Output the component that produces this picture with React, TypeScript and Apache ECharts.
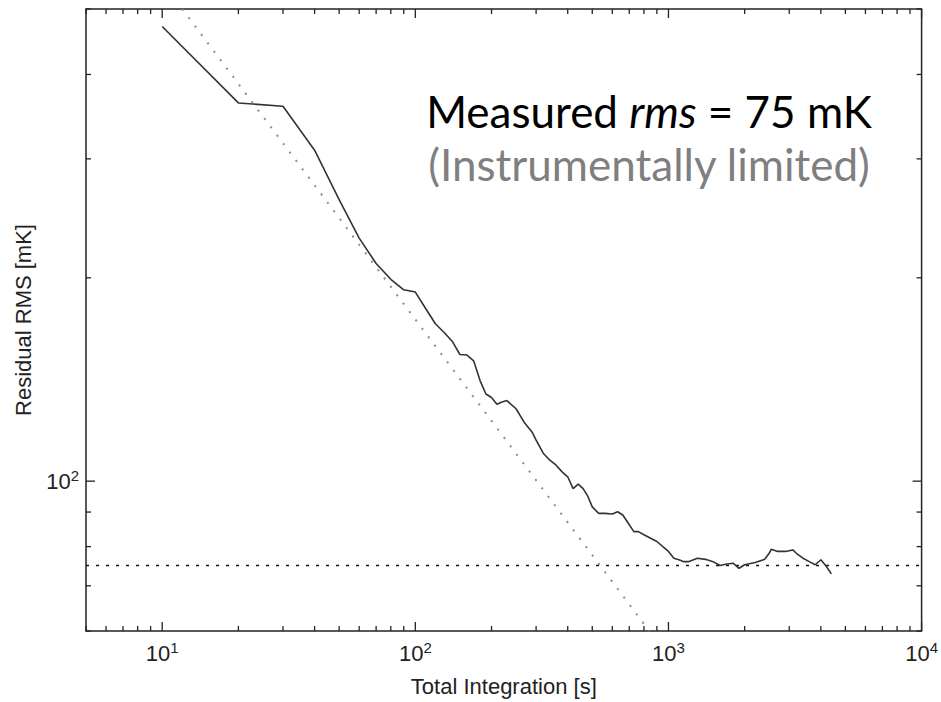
import React, { useEffect, useRef } from "react";
import * as echarts from "echarts";

// Measured residual RMS versus total integration time
const timeSec = [
  10, 20, 30, 40, 50, 60, 70, 80, 90, 100, 110, 120, 130, 140, 150, 160, 170, 180, 190, 200,
  210, 220, 230, 250, 270, 290, 300, 320, 340, 360, 380, 400, 420, 440, 460, 480, 500, 530,
  560, 600, 630, 660, 700, 730, 760, 800, 850, 900, 950, 1000, 1050, 1100, 1150, 1200, 1300,
  1400, 1500, 1600, 1700, 1800, 1900, 2000, 2200, 2400, 2500, 2550, 2700, 2900, 3100, 3200,
  3400, 3600, 3800, 4000, 4200, 4400,
];
const residualRmsMk = [
  471, 363, 359, 309, 261, 229, 210, 199, 192, 190.5, 180, 171, 166, 161, 154, 153.7, 150.7,
  141, 134.6, 133, 130, 131, 131.6, 128, 122, 118, 115, 110, 107.4, 105.6, 103.2, 101.5, 97.5,
  99, 97.5, 95, 91.6, 89.6, 89.6, 89.4, 90.1, 89.1, 86.2, 84.2, 84.2, 83.3, 82.3, 81.4, 80,
  78.7, 76.9, 76.5, 76, 76, 76.9, 76.6, 76, 75, 75.4, 75.6, 74.3, 75.2, 75.8, 76.6, 78.2, 79.3,
  78.7, 78.7, 79.1, 78.2, 76.9, 76, 75.2, 76.5, 74.8, 72.9,
];

// Ideal radiometer-equation line (end points)
const idealTimeSec = [12, 840];
const idealRmsMk = [500, 60];

// Instrumental floor
const floorMk = 75;
const floorTimeSec = [5, 10000];

// Axis ranges and tick marks
const xRange = [5, 10000];
const yRange = [60, 500];
const xDecades = [1, 10, 100, 1000, 10000];
const tickMultipliers = [1, 2, 3, 4, 5, 6, 7, 8, 9];
const yTickValues = [60, 70, 80, 90, 100, 200, 300, 400, 500];
const yMajorTicks = [100];

const annotationLine1 = "Measured ";
const annotationItalic = "rms";
const annotationLine1End = " = 75 mK";
const annotationLine2 = "(Instrumentally limited)";

const AXIS_FONT = "'Liberation Sans', Arial, Helvetica, sans-serif";
const NOTE_FONT = "Lato, 'Open Sans', sans-serif";
const NOTE_SIZE = 44;
const INK = "#222";

function decadeLabel(v: number): string {
  const l = Math.log10(v);
  const e = Math.round(l);
  if (Math.abs(l - e) > 1e-6) return "";
  return `{b|10}{s|${e}}`;
}

const labelRich = {
  b: { fontFamily: AXIS_FONT, fontSize: 22, color: INK, lineHeight: 26 },
  s: { fontFamily: AXIS_FONT, fontSize: 15, color: INK, verticalAlign: "top", lineHeight: 26 },
};

export default function App() {
  const ref = useRef<HTMLDivElement>(null);

  useEffect(() => {
    if (!ref.current) return;
    const chart = echarts.init(ref.current, undefined, { renderer: "svg" });

    const xTicks: number[][] = [];
    for (const d of xDecades) {
      for (const m of tickMultipliers) {
        const v = d * m;
        if (v >= xRange[0] && v <= xRange[1]) xTicks.push([v, 100, m === 1 ? 1 : 0]);
      }
    }
    const yTicks = yTickValues.map((v) => [10, v, yMajorTicks.includes(v) ? 1 : 0]);
    const tickStyle = { stroke: INK, lineWidth: 1.3 };

    chart.setOption({
      animation: false,
      grid: {
        left: 86,
        right: 19,
        top: 9,
        bottom: 66,
        show: true,
        borderColor: INK,
        borderWidth: 1.5,
        backgroundColor: "transparent",
      },
      xAxis: {
        type: "log",
        logBase: 10,
        min: xRange[0],
        max: xRange[1],
        axisLine: { show: false },
        axisTick: { show: false },
        splitLine: { show: false },
        axisLabel: {
          formatter: decadeLabel,
          rich: labelRich,
          margin: 9,
          showMinLabel: true,
          showMaxLabel: true,
          hideOverlap: false,
        },
        name: "Total Integration [s]",
        nameLocation: "middle",
        nameGap: 44,
        nameTextStyle: { fontFamily: AXIS_FONT, fontSize: 22, color: INK },
      },
      yAxis: {
        type: "log",
        logBase: 10,
        min: yRange[0],
        max: yRange[1],
        axisLine: { show: false },
        axisTick: { show: false },
        splitLine: { show: false },
        axisLabel: {
          formatter: decadeLabel,
          rich: labelRich,
          margin: 7,
          hideOverlap: false,
        },
        name: "Residual RMS [mK]",
        nameLocation: "middle",
        nameGap: 52,
        nameRotate: 90,
        nameTextStyle: { fontFamily: AXIS_FONT, fontSize: 22, color: INK },
      },
      series: [
        {
          type: "line",
          data: idealTimeSec.map((t, i) => [t, idealRmsMk[i]]),
          showSymbol: false,
          silent: true,
          lineStyle: { color: "#8c8c8c", width: 2, type: [2, 8.5], cap: "butt" },
          z: 2,
        },
        {
          type: "line",
          data: floorTimeSec.map((t) => [t, floorMk]),
          showSymbol: false,
          silent: true,
          lineStyle: { color: "#111", width: 1.5, type: [3, 7], cap: "butt" },
          z: 2,
        },
        {
          type: "line",
          data: timeSec.map((t, i) => [t, residualRmsMk[i]]),
          showSymbol: false,
          silent: true,
          lineStyle: { color: "#333", width: 1.6 },
          z: 3,
        },
        {
          type: "custom",
          silent: true,
          clip: false,
          data: xTicks,
          renderItem: (params: any, api: any) => {
            const v = api.value(0);
            const major = api.value(2);
            const p = api.coord([v, 100]);
            const cs = params.coordSys;
            const len = major ? 9 : 5;
            const bottom = cs.y + cs.height;
            return {
              type: "group",
              children: [
                { type: "line", shape: { x1: p[0], y1: bottom, x2: p[0], y2: bottom - len }, style: tickStyle },
                { type: "line", shape: { x1: p[0], y1: cs.y, x2: p[0], y2: cs.y + len }, style: tickStyle },
              ],
            };
          },
          z: 4,
        },
        {
          type: "custom",
          silent: true,
          clip: false,
          data: yTicks,
          renderItem: (params: any, api: any) => {
            const v = api.value(1);
            const major = api.value(2);
            const p = api.coord([10, v]);
            const cs = params.coordSys;
            const len = major ? 9 : 5;
            const right = cs.x + cs.width;
            return {
              type: "group",
              children: [
                { type: "line", shape: { x1: cs.x, y1: p[1], x2: cs.x + len, y2: p[1] }, style: tickStyle },
                { type: "line", shape: { x1: right, y1: p[1], x2: right - len, y2: p[1] }, style: tickStyle },
              ],
            };
          },
          z: 4,
        },
      ],
      graphic: [
        {
          type: "text",
          x: 649,
          y: 111,
          silent: true,
          style: {
            text: `{n|${annotationLine1}}{i|${annotationItalic}}{n|${annotationLine1End}}`,
            align: "center",
            verticalAlign: "middle",
            lineHeight: NOTE_SIZE,
            rich: {
              n: { fontFamily: NOTE_FONT, fontSize: NOTE_SIZE, lineHeight: NOTE_SIZE, fill: "#000" },
              i: {
                fontFamily: NOTE_FONT,
                fontSize: NOTE_SIZE,
                lineHeight: NOTE_SIZE,
                fontStyle: "italic",
                fill: "#000",
              },
            },
          },
        },
        {
          type: "text",
          x: 649,
          y: 164,
          silent: true,
          style: {
            text: annotationLine2,
            align: "center",
            verticalAlign: "middle",
            fontFamily: NOTE_FONT,
            fontSize: NOTE_SIZE,
            lineHeight: NOTE_SIZE,
            fill: "#7f7f7f",
          },
        },
      ],
    });

    return () => chart.dispose();
  }, []);

  return (
    <div
      ref={ref}
      style={{ position: "fixed", left: 0, top: 0, width: 941, height: 702, background: "#fff" }}
    />
  );
}
